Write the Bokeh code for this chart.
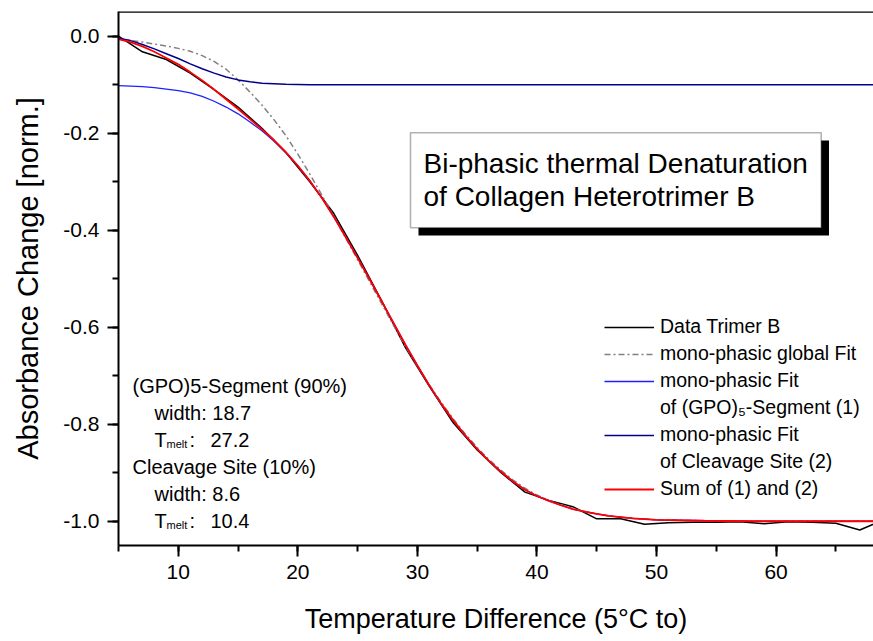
from bokeh.plotting import figure
from bokeh.models import (SingleIntervalTicker, NumeralTickFormatter, Span,
                          Legend, LegendItem, Label, BoxAnnotation, Range1d)
from bokeh.embed import file_html
from bokeh.resources import INLINE

# ---- measured curve: absorbance change vs. temperature difference ----
data_t = [5, 7, 9, 11, 13, 15, 17, 19, 21, 23, 25, 27, 29, 31, 33, 35, 37, 39,
          41, 43, 45, 47, 49, 51, 53, 55, 57, 59, 61, 63, 65, 67, 69]
data_abs = [0.000, -0.032, -0.048, -0.076, -0.110, -0.146, -0.190, -0.240,
            -0.300, -0.365, -0.452, -0.545, -0.642, -0.722, -0.797, -0.853,
            -0.900, -0.940, -0.957, -0.970, -0.995, -0.995, -1.006, -1.003,
            -1.002, -1.002, -1.001, -1.005, -1.001, -1.002, -1.004, -1.018,
            -0.997]

# ---- fitted curves, sampled on a common temperature grid ----
fit_t = [5, 6, 7, 8, 9, 10, 11, 12, 13, 14, 15, 16, 17, 18, 19, 20, 21, 22,
         23, 24, 25, 26, 27, 28, 29, 30, 31, 32, 33, 34, 35, 36, 37, 38, 39,
         40, 41, 42, 43, 44, 45, 46, 48, 50, 54, 58, 62, 66, 69]

global_fit = [-0.006, -0.009, -0.012, -0.016, -0.020, -0.025, -0.031, -0.040,
              -0.052, -0.068, -0.090, -0.115, -0.142, -0.172, -0.205, -0.243,
              -0.284, -0.327, -0.371, -0.416, -0.461, -0.506, -0.551, -0.596,
              -0.639, -0.680, -0.719, -0.755, -0.789, -0.820, -0.848, -0.873,
              -0.895, -0.915, -0.932, -0.946, -0.957, -0.966, -0.974, -0.980,
              -0.985, -0.989, -0.994, -0.997, -0.999, -1.000, -1.000, -1.000,
              -1.000]

gpo_fit = [-0.102, -0.103, -0.104, -0.106, -0.109, -0.112, -0.117, -0.124,
           -0.134, -0.146, -0.160, -0.177, -0.195, -0.216, -0.240, -0.267,
           -0.298, -0.333, -0.372, -0.414, -0.457, -0.501, -0.546, -0.591,
           -0.636, -0.679, -0.720, -0.758, -0.792, -0.823, -0.851, -0.876,
           -0.898, -0.918, -0.935, -0.948, -0.958, -0.967, -0.975, -0.980,
           -0.985, -0.989, -0.994, -0.997, -0.999, -1.000, -1.000, -1.000,
           -1.000]

cleavage_fit = [-0.004, -0.009, -0.017, -0.026, -0.036, -0.046, -0.057, -0.067,
                -0.076, -0.084, -0.090, -0.094, -0.097, -0.098, -0.099, -0.0995,
                -0.100, -0.100, -0.100, -0.100, -0.100, -0.100, -0.100, -0.100,
                -0.100, -0.100, -0.100, -0.100, -0.100, -0.100, -0.100, -0.100,
                -0.100, -0.100, -0.100, -0.100, -0.100, -0.100, -0.100, -0.100,
                -0.100, -0.100, -0.100, -0.100, -0.100, -0.100, -0.100, -0.100,
                -0.100]

sum_fit = [-0.006, -0.012, -0.021, -0.032, -0.045, -0.058, -0.074, -0.091,
           -0.110, -0.130, -0.150, -0.171, -0.192, -0.214, -0.239, -0.267,
           -0.298, -0.333, -0.372, -0.414, -0.457, -0.501, -0.546, -0.591,
           -0.636, -0.679, -0.720, -0.758, -0.792, -0.823, -0.851, -0.876,
           -0.898, -0.918, -0.935, -0.948, -0.958, -0.967, -0.975, -0.980,
           -0.985, -0.989, -0.994, -0.997, -0.999, -1.000, -1.000, -1.000,
           -1.000]

x_ticks_step = 10
y_ticks_step = 0.2

FONT = "Liberation Sans"

# frame geometry (pixels) and data ranges
W, H = 873, 641
FL, FR, FT, FB = 118, 873, 11, 545
X_LO, X_HI = 5.0, 68.15
Y_LO, Y_HI = -1.05, 0.051


def xd(px):
    return X_LO + (px - FL) * (X_HI - X_LO) / (FR - FL)


def yd(py):
    return Y_HI - (py - FT) * (Y_HI - Y_LO) / (FB - FT)


p = figure(width=W, height=H, output_backend="svg", toolbar_location=None,
           x_range=Range1d(X_LO, X_HI), y_range=Range1d(Y_LO, Y_HI),
           min_border_left=FL, min_border_right=0, min_border_top=FT,
           min_border_bottom=H - FB, outline_line_color=None)
p.background_fill_color = "white"
p.border_fill_color = "white"
p.xgrid.visible = False
p.ygrid.visible = False

# axes
xa = p.xaxis[0]
xa.ticker = SingleIntervalTicker(interval=x_ticks_step, num_minor_ticks=2)
ya = p.yaxis[0]
ya.ticker = SingleIntervalTicker(interval=y_ticks_step, num_minor_ticks=2)
ya.formatter = NumeralTickFormatter(format="0.0")
for ax in (xa, ya):
    ax.axis_line_width = 2
    ax.axis_line_color = "black"
    ax.major_tick_line_width = 2
    ax.minor_tick_line_width = 2
    ax.major_tick_in = 0
    ax.minor_tick_in = 0
    ax.major_tick_out = 11
    ax.minor_tick_out = 6
    ax.major_label_text_font = FONT
    ax.major_label_text_font_size = "21px"
    ax.major_label_text_color = "black"
    ax.axis_label_text_font = FONT
    ax.axis_label_text_font_style = "normal"
    ax.axis_label_text_color = "black"
xa.axis_label_text_font_size = "27px"
ya.axis_label_text_font_size = "29px"
xa.major_label_standoff = 8
ya.major_label_standoff = 8
xa.axis_label = "Temperature Difference (5°C to)"
ya.axis_label = "Absorbance Change [norm.]"
xa.axis_label_standoff = 22
ya.axis_label_standoff = 16

# top frame line
p.add_layout(Span(location=Y_HI, dimension="width", line_color="black",
                  line_width=2.5))

# curves
r_data = p.line(data_t, data_abs, line_color="black", line_width=1.5)
r_global = p.line(fit_t, global_fit, line_color="#808080", line_width=1.5,
                  line_dash="6 3 2 3")
r_gpo = p.line(fit_t, gpo_fit, line_color="#1f1fff", line_width=1.3)
r_clv = p.line(fit_t, cleavage_fit, line_color="#00008c", line_width=1.5)
r_sum = p.line(fit_t, sum_fit, line_color="#ff0000", line_width=1.8)
r_blank1 = p.line([], [], line_alpha=0)
r_blank2 = p.line([], [], line_alpha=0)

legend = Legend(items=[
    LegendItem(label="Data Trimer B", renderers=[r_data]),
    LegendItem(label="mono-phasic global Fit", renderers=[r_global]),
    LegendItem(label="mono-phasic Fit", renderers=[r_gpo]),
    LegendItem(label="of (GPO)\u2085-Segment (1)", renderers=[r_blank1]),
    LegendItem(label="mono-phasic Fit", renderers=[r_clv]),
    LegendItem(label="of Cleavage Site (2)", renderers=[r_blank2]),
    LegendItem(label="Sum of (1) and (2)", renderers=[r_sum]),
], location=(604 - FL, FB - 500), orientation="vertical",
    label_text_font=FONT, label_text_font_size="19.5px", label_text_color="black",
    glyph_width=50, glyph_height=20, label_height=20, spacing=4,
    label_standoff=6, padding=0, margin=0, border_line_color=None,
    background_fill_alpha=0)
p.add_layout(legend, "center")

# boxed caption with drop shadow
p.add_layout(BoxAnnotation(left=xd(418), right=xd(828.5), top=yd(140), bottom=yd(235),
                           fill_color="black", fill_alpha=1, line_color=None))
p.add_layout(BoxAnnotation(left=xd(410), right=xd(820.7), top=yd(132.3), bottom=yd(227.3),
                           fill_color="white", fill_alpha=1, line_color="black",
                           line_width=1.6))
for txt, base in (("Bi-phasic thermal Denaturation", 163),
                  ("of Collagen Heterotrimer B", 196)):
    p.add_layout(Label(x=xd(423), y=yd(base), text=txt, text_font=FONT,
                       text_font_size="28px", text_color="black",
                       text_baseline="alphabetic"))


# fit parameters
def note(text, px, py, size="20px"):
    p.add_layout(Label(x=xd(px), y=yd(py), text=text, text_font=FONT,
                       text_font_size=size, text_color="black",
                       text_baseline="alphabetic"))


note("(GPO)5-Segment (90%)", 132, 385)
note("width: 18.7", 154, 412)
note("T", 154, 439)
note("melt", 166, 443, "11px")
note(":", 189, 439)
note("27.2", 210, 439)
note("Cleavage Site (10%)", 132, 466)
note("width: 8.6", 154, 493)
note("T", 154, 520)
note("melt", 166, 524, "11px")
note(":", 189, 520)
note("10.4", 210, 520)

open("out.html", "w").write(file_html(p, INLINE))
